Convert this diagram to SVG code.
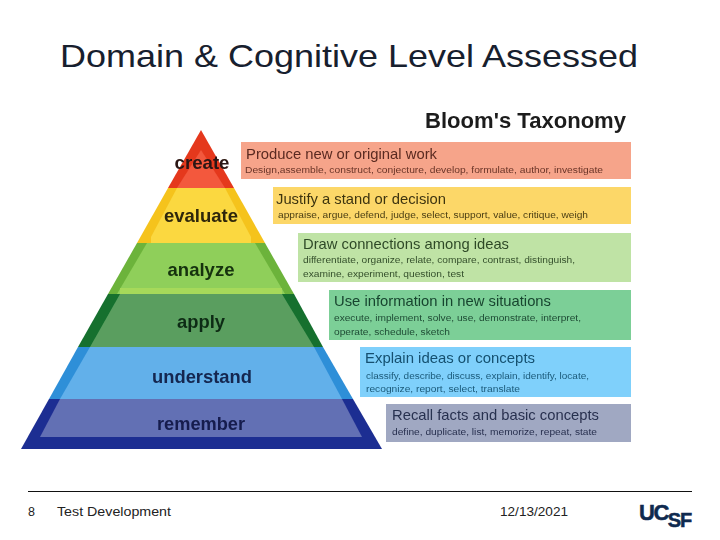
<svg xmlns="http://www.w3.org/2000/svg" width="720" height="540" viewBox="0 0 720 540">
<defs>
<filter id="soft" x="-5%" y="-5%" width="110%" height="110%"><feGaussianBlur stdDeviation="0.65"/></filter>
</defs>
<style>
text{font-family:"Liberation Sans",Arial,sans-serif}
.title{font-size:32px;fill:#17202e}
.foot{font-size:12.5px;fill:#222}
.lvl{font-size:19px;font-weight:bold;text-anchor:middle}
.head{font-size:14.5px}
.sub{font-size:9.6px}
</style>
<rect width="720" height="540" fill="#fff"/>
<text class="title" x="60" y="67" textLength="578" lengthAdjust="spacingAndGlyphs">Domain &amp; Cognitive Level Assessed</text>
<g id="figure" filter="url(#soft)">
<text x="425" y="128" font-size="22" font-weight="bold" fill="#1c1c1c" textLength="201" lengthAdjust="spacingAndGlyphs">Bloom's Taxonomy</text>
<g id="level-create">
<polygon points="201,130 234,188 168,188" fill="#e5391f"/>
<polygon points="201,150 225,188 177,188" fill="#f3583c"/>
<text class="lvl" x="202" y="169" fill="#2a1512" textLength="55" lengthAdjust="spacingAndGlyphs">create</text>
<rect x="241" y="142" width="390" height="37" fill="#f6a48a"/>
<text class="head" x="246" y="159" fill="#5a2a20" textLength="191" lengthAdjust="spacingAndGlyphs">Produce new or original work</text>
<text class="sub" x="245" y="173" fill="#6a3528" textLength="358" lengthAdjust="spacingAndGlyphs">Design,assemble, construct, conjecture, develop, formulate, author, investigate</text>
</g>
<g id="level-evaluate">
<polygon points="168,188 234,188 265,243 137,243" fill="#f5c31d"/>
<polygon points="177,188 225,188 251,237 151,237" fill="#fbd840"/>
<rect x="151" y="237" width="100" height="6" fill="#fbd840"/>
<text class="lvl" x="201" y="222" fill="#2e2608" textLength="74" lengthAdjust="spacingAndGlyphs">evaluate</text>
<rect x="273" y="187" width="358" height="37" fill="#fcd768"/>
<text class="head" x="276" y="204" fill="#3e3410" textLength="170" lengthAdjust="spacingAndGlyphs">Justify a stand or decision</text>
<text class="sub" x="278" y="218" fill="#4a3e14" textLength="310" lengthAdjust="spacingAndGlyphs">appraise, argue, defend, judge, select, support, value, critique, weigh</text>
</g>
<g id="level-analyze">
<polygon points="137,243 265,243 294,294 108,294" fill="#6cb33a"/>
<polygon points="147,243 255,243 285,294 117,294" fill="#8fcf5a"/>
<rect x="120" y="288" width="162" height="6" fill="#a6d95a"/>
<text class="lvl" x="201" y="276" fill="#14300f" textLength="67" lengthAdjust="spacingAndGlyphs">analyze</text>
<rect x="298" y="233" width="333" height="49" fill="#bfe3a5"/>
<text class="head" x="303" y="249" fill="#2f4a28" textLength="206" lengthAdjust="spacingAndGlyphs">Draw connections among ideas</text>
<text class="sub" x="303" y="263" fill="#35502c" textLength="272" lengthAdjust="spacingAndGlyphs">differentiate, organize, relate, compare, contrast, distinguish,</text>
<text class="sub" x="303" y="277" fill="#35502c" textLength="161" lengthAdjust="spacingAndGlyphs">examine, experiment, question, test</text>
</g>
<g id="level-apply">
<polygon points="108,294 294,294 323,347 78,347" fill="#14702f"/>
<polygon points="120,294 282,294 314,347 90,347" fill="#5a9e5e"/>
<text class="lvl" x="201" y="328" fill="#0e2c14" textLength="48" lengthAdjust="spacingAndGlyphs">apply</text>
<rect x="329" y="290" width="302" height="50" fill="#7ccf97"/>
<text class="head" x="334" y="306" fill="#18452f" textLength="217" lengthAdjust="spacingAndGlyphs">Use information in new situations</text>
<text class="sub" x="334" y="321" fill="#1f4c35" textLength="247" lengthAdjust="spacingAndGlyphs">execute, implement, solve, use, demonstrate, interpret,</text>
<text class="sub" x="334" y="335" fill="#1f4c35" textLength="116" lengthAdjust="spacingAndGlyphs">operate, schedule, sketch</text>
</g>
<g id="level-understand">
<polygon points="78,347 323,347 353,399 49,399" fill="#2f8fd8"/>
<polygon points="90,347 314,347 342,399 60,399" fill="#62b0ea"/>
<text class="lvl" x="202" y="383" fill="#12264f" textLength="100" lengthAdjust="spacingAndGlyphs">understand</text>
<rect x="360" y="347" width="271" height="50" fill="#7fd0fb"/>
<text class="head" x="365" y="363" fill="#14506f" textLength="170" lengthAdjust="spacingAndGlyphs">Explain ideas or concepts</text>
<text class="sub" x="366" y="379" fill="#1b5a7a" textLength="223" lengthAdjust="spacingAndGlyphs">classify, describe, discuss, explain, identify, locate,</text>
<text class="sub" x="366" y="392" fill="#1b5a7a" textLength="154" lengthAdjust="spacingAndGlyphs">recognize, report, select, translate</text>
</g>
<g id="level-remember">
<polygon points="49,399 353,399 382,449 21,449" fill="#1f2f92"/>
<polygon points="60,399 342,399 362,437 40,437" fill="#626fb4"/>
<text class="lvl" x="201" y="430" fill="#141d4d" textLength="88" lengthAdjust="spacingAndGlyphs">remember</text>
<rect x="386" y="404" width="245" height="38" fill="#a0a8c2"/>
<text class="head" x="392" y="420" fill="#28304f" textLength="207" lengthAdjust="spacingAndGlyphs">Recall facts and basic concepts</text>
<text class="sub" x="392" y="435" fill="#28304f" textLength="205" lengthAdjust="spacingAndGlyphs">define, duplicate, list, memorize, repeat, state</text>
</g>
</g>
<g id="footer">
<line x1="28" y1="491.5" x2="692" y2="491.5" stroke="#111" stroke-width="1"/>
<text class="foot" x="28" y="516">8</text>
<text class="foot" x="57" y="516" textLength="114" lengthAdjust="spacingAndGlyphs">Test Development</text>
<text class="foot" x="500" y="516" textLength="68" lengthAdjust="spacingAndGlyphs">12/13/2021</text>
<text id="logo" x="639" y="520" fill="#0f2a4f" font-weight="bold" font-size="22" stroke="#0f2a4f" stroke-width="0.5" letter-spacing="-1.5">UC<tspan dy="7" font-size="20" letter-spacing="-1">SF</tspan></text>
</g>
</svg>
